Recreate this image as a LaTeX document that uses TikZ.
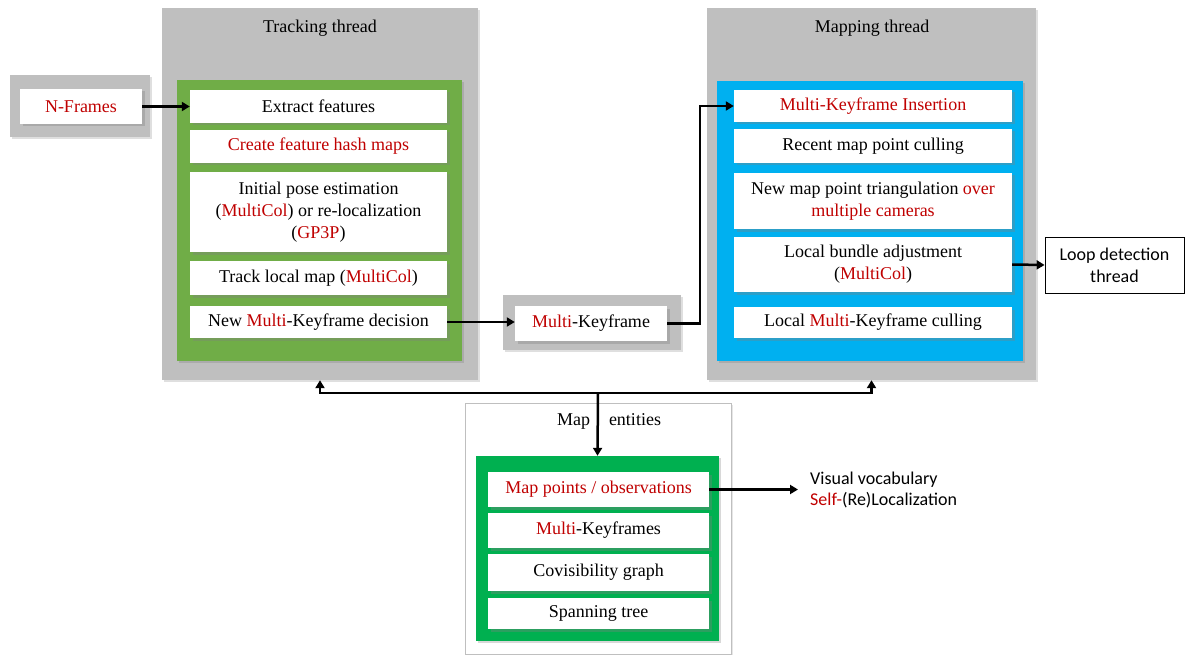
\documentclass[tikz,border=0pt]{standalone}
\usepackage{fontspec}
\setmainfont{Liberation Serif}
\newfontfamily\calibrifont{Carlito}
\usetikzlibrary{shadows,arrows.meta}
\definecolor{boxgray}{HTML}{BFBFBF}
\definecolor{trkgreen}{HTML}{70AD47}
\definecolor{mapblue}{HTML}{00B0F0}
\definecolor{entgreen}{HTML}{00B050}
\definecolor{txtred}{HTML}{C00000}
\newcommand{\rt}[1]{\textcolor{txtred}{#1}}
\begin{document}
\begin{tikzpicture}[x=1pt,y=-1pt,
  every node/.style={font=\rmfamily\fontsize{18}{22}\selectfont, inner sep=0pt},
  graybox/.style={fill=boxgray, draw=none, drop shadow={shadow xshift=2pt,shadow yshift=-2pt,opacity=.25}},
  panel/.style={draw=none, drop shadow={shadow xshift=2pt,shadow yshift=-2pt,opacity=.3}},
  wbox/.style={fill=white, draw=none, align=center, drop shadow={shadow xshift=2.5pt,shadow yshift=-2.5pt,opacity=.35}},
  arr/.style={line width=2.5pt, -{Triangle[length=8pt,width=9pt]}},
  ttl/.style={text=black}
]
\useasboundingbox (0,0) rectangle (1185,655);

% ---------- Tracking thread ----------
\node[graybox, minimum width=316, minimum height=372] (trk) at (320,194) {};
\node[ttl] (trkt) at (320,28) {Tracking thread};
\node[panel, fill=trkgreen, minimum width=285, minimum height=281] (trkg) at (319.5,220.5) {};
\node[wbox, minimum width=257, minimum height=33] (ef) at (318.5,106.5) {Extract features};
\node[wbox, minimum width=257, minimum height=33] (hash) at (318.5,146.5) {\rt{Create feature hash maps}};
\node[wbox, minimum width=257, minimum height=80] (pose) at (318.5,212) {Initial pose estimation\\(\rt{MultiCol}) or re-localization\\(\rt{GP3P})};
\node[wbox, minimum width=257, minimum height=34] (track) at (318.5,278) {Track local map (\rt{MultiCol})};
\node[wbox, minimum width=257, minimum height=32] (dec) at (318.5,322) {New \rt{Multi}-Keyframe decision};

% ---------- N-Frames ----------
\node[graybox, minimum width=140, minimum height=62] (nfg) at (80,106) {};
\node[wbox, minimum width=122, minimum height=35] (nf) at (81,106.5) {\rt{N-Frames}};

% ---------- Multi-Keyframe ----------
\node[graybox, minimum width=178, minimum height=55] (mkfg) at (592,322.5) {};
\node[wbox, minimum width=152, minimum height=35] (mkf) at (591,323.5) {\rt{Multi}-Keyframe};

% ---------- Mapping thread ----------
\node[graybox, minimum width=329, minimum height=372] (map) at (871.5,194) {};
\node[ttl] (mapt) at (872,28) {Mapping thread};
\node[panel, fill=mapblue, minimum width=306, minimum height=280] (mapb) at (870,221) {};
\node[wbox, minimum width=278, minimum height=32] (ins) at (873,106) {\rt{Multi-Keyframe Insertion}};
\node[wbox, minimum width=278, minimum height=34] (recent) at (873,146) {Recent map point culling};
\node[wbox, minimum width=278, minimum height=56] (newmp) at (873,201) {New map point triangulation \rt{over}\\\rt{multiple cameras}};
\node[wbox, minimum width=278, minimum height=55] (lba) at (873,264.5) {Local bundle adjustment\\(\rt{MultiCol})};
\node[wbox, minimum width=278, minimum height=31] (lmkc) at (873,322.5) {Local \rt{Multi}-Keyframe culling};

% ---------- Loop detection ----------
\node[draw=black, line width=0.8pt, fill=white, minimum width=139, minimum height=56, align=center, font=\calibrifont\fontsize{18}{22}\selectfont] (loop) at (1114.5,265) {Loop detection\\thread};

% ---------- Map entities ----------
\node[fill=white, draw=black!25, line width=1pt, minimum width=266, minimum height=251, drop shadow={shadow xshift=1.5pt,shadow yshift=-1.5pt,opacity=.2}] (ent) at (598,528.5) {};
\node[ttl] (entt) at (609,421) {Map\hspace{19pt}entities};
\node[panel, fill=entgreen, minimum width=243, minimum height=185] (entg) at (597.5,548.5) {};
\node[wbox, minimum width=221, minimum height=35] (mp) at (598.5,489.5) {\rt{Map points / observations}};
\node[wbox, minimum width=221, minimum height=35] (mkfs) at (598.5,530.5) {\rt{Multi}-Keyframes};
\node[wbox, minimum width=221, minimum height=37] (cov) at (598.5,572.5) {Covisibility graph};
\node[wbox, minimum width=221, minimum height=31] (span) at (598.5,613.5) {Spanning tree};

\node[anchor=west, align=left, inner xsep=12pt, font=\calibrifont\fontsize{18}{21}\selectfont] (vv) at (798,490) {Visual vocabulary\\\rt{Self-}(Re)Localization};

% ---------- connectors ----------
\draw[arr] (nf.east) -- (ef.west);
\draw[arr] (dec.east) -- (dec.east -| mkf.west);
\coordinate (bend) at (700,323.5);
\draw[arr] (mkf.east) -- (bend) |- (ins.west);
\draw[arr] (lba.east) -- (loop.west);
\coordinate (bus) at (598,393);
\draw[arr] (bus) -| (trk.south);
\draw[arr] (bus) -| (map.south);
\draw[arr] (bus) -- (entg.north);
\draw[arr] (mp.east) -- (mp.east -| vv.west);
\end{tikzpicture}
\end{document}
